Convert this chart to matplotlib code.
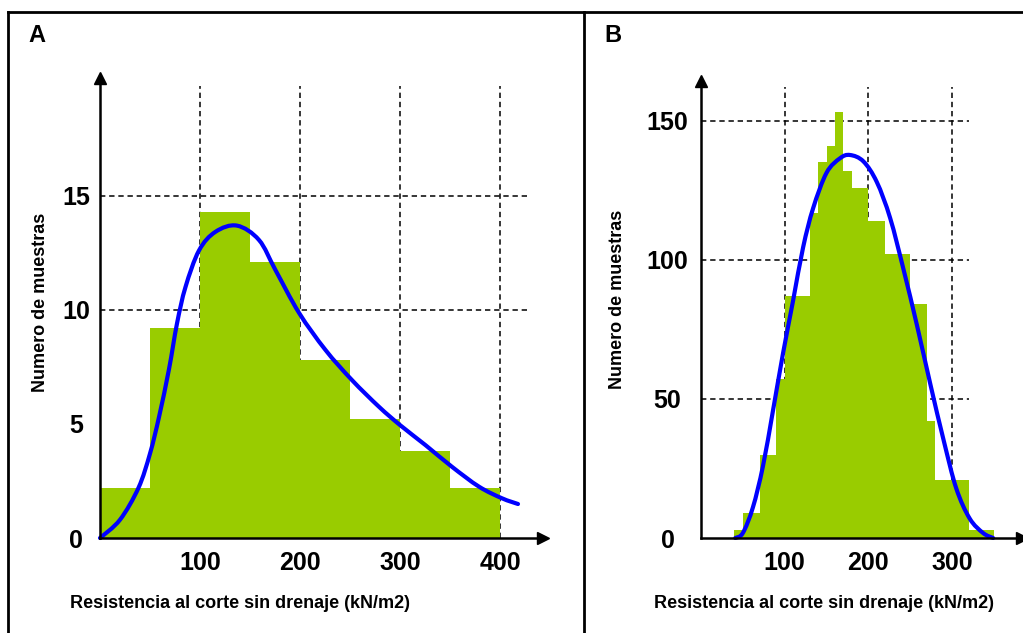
import matplotlib
matplotlib.use("Agg")
import matplotlib.pyplot as plt
import numpy as np
from matplotlib.lines import Line2D
from matplotlib.path import Path
from matplotlib.patches import PathPatch

# Panel A: histograma (bins de 50 kN/m2) y curva ajustada
edges_a = [0, 50, 100, 150, 200, 250, 300, 350, 400]
counts_a = [2.2, 9.2, 14.3, 12.1, 7.8, 5.2, 3.8, 2.2]
curve_a_x = [0, 20, 38.5, 50, 59, 69, 77, 85.5, 99, 115.5, 137, 159, 175.5,
             199, 225.5, 252, 279, 300, 325.5, 352, 379, 402, 418]
curve_a_y = [0, 0.8, 2.2, 3.7, 5.3, 7.4, 9.4, 11.0, 12.6, 13.42, 13.69,
             13.06, 11.74, 9.87, 8.24, 6.92, 5.75, 4.95, 4.07, 3.12, 2.25, 1.74, 1.49]
xticks_a = [100, 200, 300, 400]
yticks_a = [0, 5, 10, 15]
hgrid_a = [10, 15]

# Panel B: histograma (bins de 10 kN/m2) y curva ajustada
edges_b = [40, 50, 70, 90, 100, 130, 140, 150, 160, 170, 180, 200, 220, 250,
           270, 280, 320, 350]
counts_b = [3, 9, 30, 57, 87, 117, 135, 141, 153, 132, 126, 114, 102, 84, 42, 21, 3]
curve_b_x = [41, 50, 62, 74, 86, 98, 110, 122, 134, 150, 166, 178, 194, 210,
             226, 242, 258, 274, 290, 305, 321, 337, 349]
curve_b_y = [0, 1.8, 11, 25.8, 45.8, 66.4, 85.3, 104.5, 118.6, 131.3, 136.5,
             137.7, 135.4, 128, 115, 96.5, 76.5, 55.3, 35, 17.8, 7, 1.8, 0]
xticks_b = [100, 200, 300]
yticks_b = [0, 50, 100, 150]
hgrid_b = [50, 100, 150]

xlabel = "Resistencia al corte sin drenaje (kN/m2)"
ylabel = "Numero de muestras"

green = "#99CC00"
blue = "#0000FF"

W, H = 1023, 633
fig = plt.figure(figsize=(W / 100, H / 100), dpi=100)


def smooth_path(xs, ys):
    # curva suave que pasa por los puntos leidos (Catmull-Rom como Bezier)
    p = np.column_stack([xs, ys]).astype(float)
    p = np.vstack([p[0], p, p[-1]])
    verts = [p[1]]
    codes = [Path.MOVETO]
    for i in range(1, len(p) - 2):
        c1 = p[i] + (p[i + 1] - p[i - 1]) / 6
        c2 = p[i + 1] - (p[i + 2] - p[i]) / 6
        verts += [c1, c2, p[i + 1]]
        codes += [Path.CURVE4] * 3
    return Path(verts, codes)


def panel(rect, edges, counts, cx, cy, xticks, yticks, hgrid, xlim, ylim,
          hgrid_end, vgrid_top, ypad):
    ax = fig.add_axes(rect)
    ax.set_xlim(*xlim)
    ax.set_ylim(*ylim)
    # rejilla punteada detras de las barras
    ax.hlines(hgrid, 0, hgrid_end, colors="k", lw=1.1,
              linestyles=(0, (3.5, 2.5)), zorder=0.5)
    ax.vlines(xticks, 0, vgrid_top, colors="k", lw=1.1,
              linestyles=(0, (3.5, 2.5)), zorder=0.5)
    ax.stairs(counts, edges, fill=True, color=green, zorder=1)
    ax.add_patch(PathPatch(smooth_path(cx, cy), fill=False, edgecolor=blue,
                           lw=3, capstyle="round", zorder=3, clip_on=False))
    for s in ["top", "right"]:
        ax.spines[s].set_visible(False)
    for s in ["left", "bottom"]:
        ax.spines[s].set_linewidth(1.8)
        ax.spines[s].set_zorder(4)
    ax.plot(1, 0, ">k", ms=8, transform=ax.transAxes, clip_on=False, zorder=5)
    ax.plot(0, 1, "^k", ms=8, transform=ax.transAxes, clip_on=False, zorder=5)
    ax.set_xticks(xticks)
    ax.set_yticks(yticks)
    ax.tick_params(length=0, labelsize=18)
    ax.tick_params(axis="x", pad=9)
    ax.tick_params(axis="y", pad=ypad)
    for lab in ax.get_xticklabels() + ax.get_yticklabels():
        lab.set_fontweight("bold")
        lab.set_fontfamily("Liberation Sans")
    for lab in ax.get_yticklabels():
        lab.set_horizontalalignment("center")
    ax.set_facecolor("none")
    return ax


axA = panel([100 / W, 95 / H, 443 / W, 460 / H], edges_a, counts_a,
            curve_a_x, curve_a_y, xticks_a, yticks_a, hgrid_a, (0, 443),
            (0, 20.16), 427, 19.8, 17)
axB = panel([701 / W, 95 / H, 321 / W, 457 / H], edges_b, counts_b,
            curve_b_x, curve_b_y, xticks_b, yticks_b, hgrid_b, (0, 383.5),
            (0, 164.3), 320.6, 162, 24)

# letras de panel
fig.text(37 / W, 1 - 36 / H, "A", fontsize=17, fontweight="bold",
         family="Liberation Sans", ha="center", va="center")
fig.text(613 / W, 1 - 35 / H, "B", fontsize=17, fontweight="bold",
         family="Liberation Sans", ha="center", va="center")

# titulos de ejes
for cx_, cy_ in [(240, 603.5), (824, 603.5)]:
    fig.text(cx_ / W, 1 - cy_ / H, xlabel, fontsize=13, fontweight="bold",
             family="Liberation Sans", ha="center", va="center")
for cx_, cy_ in [(41, 302), (617, 299)]:
    fig.text(cx_ / W, 1 - cy_ / H, ylabel, fontsize=13, fontweight="bold",
             family="Liberation Sans", ha="center", va="center", rotation=90)

# marco
top = 1 - 12 / H
fig.add_artist(Line2D([8 / W, 1], [top, top], color="k", lw=2))
fig.add_artist(Line2D([8 / W, 8 / W], [0, top], color="k", lw=2))
fig.add_artist(Line2D([584 / W, 584 / W], [0, top], color="k", lw=2))

fig.savefig("out.png", dpi=100)
